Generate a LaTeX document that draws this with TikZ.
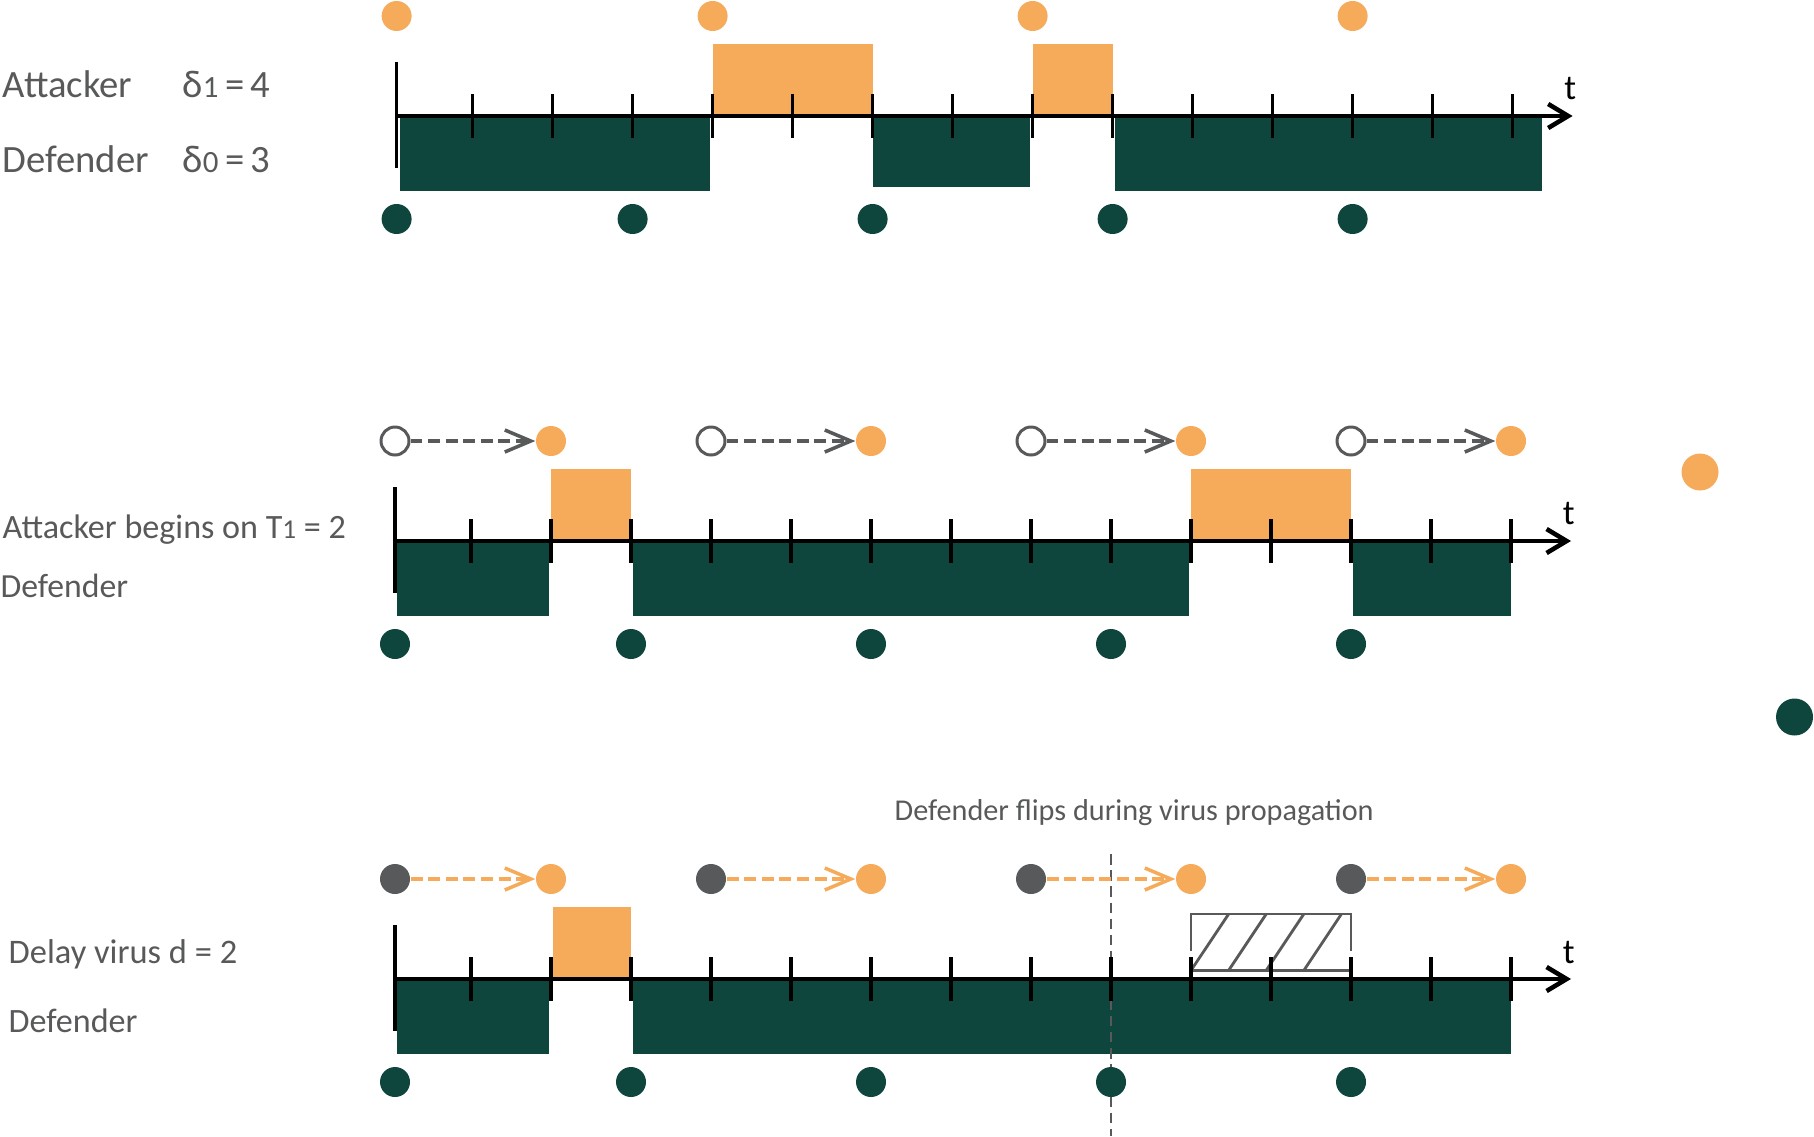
\documentclass[tikz,border=0pt]{standalone}
\usepackage{fontspec}
\setmainfont{Carlito}
\usetikzlibrary{arrows.meta}

\definecolor{orng}{HTML}{F5AB5A}
\definecolor{dgreen}{HTML}{0E463E}
\definecolor{dgray}{HTML}{58595B}

\tikzstyle{odot}=[circle, fill=orng, inner sep=0pt, minimum size=3mm]
\tikzstyle{gdot}=[circle, fill=dgreen, inner sep=0pt, minimum size=3mm]
\tikzstyle{hdot}=[circle, draw=dgray, line width=0.85pt, fill=white, inner sep=0pt, minimum size=2.8mm]
\tikzstyle{sdot}=[circle, fill=dgray, inner sep=0pt, minimum size=3mm]
\tikzstyle{lbl}=[anchor=base west, inner sep=0pt, text=dgray]
\tikzstyle{tck}=[line width=0.9pt]
\tikzstyle{axis}=[line width=1.3pt, -{Straight Barb[length=2mm,width=2.4mm]}]
\tikzstyle{gdash}=[dgray, line width=1pt, dash pattern=on 3.4pt off 1.6pt, -{Straight Barb[length=2.6mm,width=2.2mm]}]
\tikzstyle{odash}=[orng, line width=1pt, dash pattern=on 3.4pt off 1.6pt, -{Straight Barb[length=2.6mm,width=2.2mm]}]

\newcommand{\idx}[1]{\scalebox{0.8}{#1}}
% axis, ticks and t of one time line
\newcommand{\timeaxis}{%
  \draw[tck] (0.05,0.54) -- (0.05,-0.52);
  \foreach \i in {1,...,14} \draw[tck] (\i,0.22) -- (\i,-0.22);
  \draw[axis] (0.05,0) -- (14.75,0);
  \node[font=\fontsize{10}{12}\selectfont] (tlbl) at (14.72,0.27) {t};
}

\begin{document}
\begin{tikzpicture}

\useasboundingbox (0,0) rectangle (18.14,11.36);

% labels
\node [lbl, font=\fontsize{11}{13}\selectfont] (atk) at (0.02,10.39) {Attacker};
\node [lbl, font=\fontsize{11}{13}\selectfont] (dl1) at (1.82,10.39) {δ\idx{1}\,=\,4};
\node [lbl, font=\fontsize{11}{13}\selectfont] (def) at (0.02,9.64) {Defender};
\node [lbl, font=\fontsize{11}{13}\selectfont] (dl0) at (1.82,9.64) {δ\idx{0}\,=\,3};

\node [lbl, font=\fontsize{9.7}{11}\selectfont] (atkT) at (0.02,5.98) {Attacker begins on T\idx{1} = 2};
\node [lbl, font=\fontsize{9.6}{11}\selectfont] (defT) at (0.0,5.39) {Defender};

\node [lbl, font=\fontsize{9.8}{11}\selectfont] (virus) at (0.08,1.73) {Delay virus d = 2};
\node [lbl, font=\fontsize{9.7}{11}\selectfont] (defV) at (0.08,1.04) {Defender};

\node [lbl, font=\fontsize{8.6}{10}\selectfont] (flips) at (8.94,3.16) {Defender flips during virus propagation};

% periodic play
\begin{scope}[shift={(3.926cm,10.20cm)}, x=0.8cm]
  \fill[orng] (4,0) rectangle (6,0.72);
  \fill[orng] (8,0) rectangle (9,0.72);
  \fill[dgreen] (0.09,0) rectangle (3.97,-0.75);
  \fill[dgreen] (6,0) rectangle (7.97,-0.71);
  \fill[dgreen] (9.03,0) rectangle (14.37,-0.75);
  \timeaxis
  \foreach \i/\n in {0.05/0,4/4,8/8,12/12} \node[odot] (atkA\n) at (\i,1) {};
  \foreach \i/\n in {0.05/0,3/3,6/6,9/9,12/12} \node[gdot] (defA\n) at (\i,-1.03) {};
\end{scope}

% attacker starts at T1
\begin{scope}[shift={(3.91cm,5.95cm)}, x=0.8cm]
  \fill[orng] (2,0) rectangle (3,0.72);
  \fill[orng] (10,0) rectangle (12,0.72);
  \fill[dgreen] (0.08,0) rectangle (1.98,-0.75);
  \fill[dgreen] (3.02,0) rectangle (9.98,-0.75);
  \fill[dgreen] (12.03,0) rectangle (14,-0.75);
  \timeaxis
  \foreach \i/\n/\j in {0.05/0/2,4/4/6,8/8/10,12/12/14} {
    \node[hdot] (hidB\n) at (\i,1) {};
    \node[odot] (atkB\j) at (\j,1) {};
    \draw[gdash] (hidB\n) -- (atkB\j);
  }
  \foreach \i/\n in {0.05/0,3/3,6/6,9/9,12/12} \node[gdot] (defB\n) at (\i,-1.03) {};
\end{scope}

% delayed virus
\begin{scope}[shift={(3.91cm,1.57cm)}, x=0.8cm]
  \fill[orng] (2.02,0) rectangle (3,0.72);
  \fill[dgreen] (0.08,0) rectangle (1.98,-0.75);
  \fill[dgreen] (3.03,0) rectangle (14,-0.75);
  \draw[dgray, line width=0.8pt] (10,0.28) |- (12,0.65) -- (12,0.28);
  \draw[dgray, line width=0.8pt] (10,0.086) -- (12,0.086);
  \foreach \i in {0,...,3}
    \draw[dgray, line width=0.8pt] (10+0.47*\i,0.086) -- ++(0.47,0.564);
  \draw[dgray, line width=0.8pt, dash pattern=on 3pt off 1.6pt] (9,1.25) -- (9,-1.57);
  \timeaxis
  \foreach \i/\n/\j in {0.05/0/2,4/4/6,8/8/10,12/12/14} {
    \node[sdot] (srcC\n) at (\i,1) {};
    \node[odot] (atkC\j) at (\j,1) {};
    \draw[odash] (srcC\n) -- (atkC\j);
  }
  \foreach \i/\n in {0.05/0,3/3,6/6,9/9,12/12} \node[gdot] (defC\n) at (\i,-1.03) {};
\end{scope}

% loose dots on the right
\node[odot, minimum size=3.7mm] (atkX) at (17.0,6.64) {};
\node[gdot, minimum size=3.7mm] (defX) at (17.945,4.19) {};

\end{tikzpicture}
\end{document}
